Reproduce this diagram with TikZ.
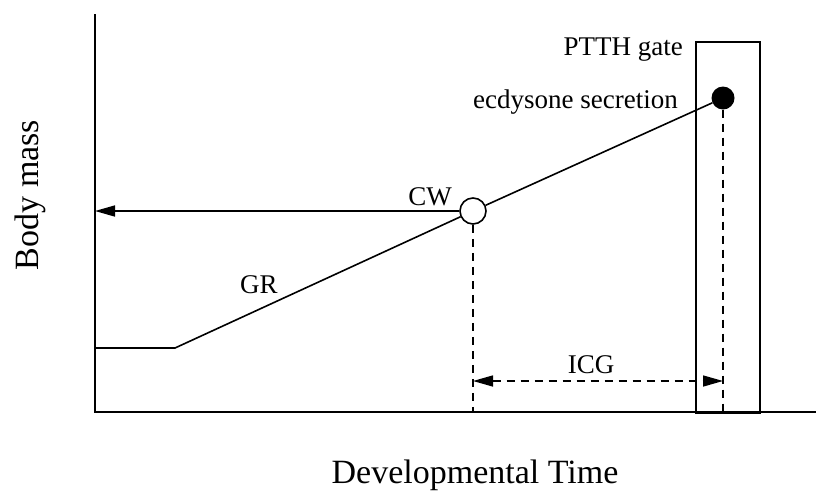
\documentclass[tikz,border=0pt]{standalone}
\usepackage{fontspec}
\setmainfont{Liberation Serif}
\usetikzlibrary{arrows.meta}
\begin{document}
\begin{tikzpicture}[x=1pt,y=-1pt,
  ln/.style={line width=1.6pt},
  dsh/.style={line width=1.5pt, dash pattern=on 8pt off 6pt},
  lbl/.style={font=\fontsize{27}{30}\selectfont, inner sep=0pt},
  axl/.style={font=\fontsize{34}{38}\selectfont, inner sep=0pt},
  tipa/.style={-{Triangle[length=20pt,width=11pt]}},
  tipb/.style={{Triangle[length=20pt,width=11pt]}-{Triangle[length=20pt,width=11pt]}}]
\useasboundingbox (0,0) rectangle (816,491);
% axes
\coordinate (top) at (95,14);
\coordinate (org) at (95,412);
\coordinate (xend) at (816,412);
\draw[ln] (top) -- (org) -- (xend);
% PTTH gate
\node[draw, ln, minimum width=64pt, minimum height=371pt, anchor=north west, inner sep=0pt] (gate) at (695,41) {};
% growth curve
\coordinate (s0) at (95,348);
\coordinate (s1) at (175,348);
\node[draw, circle, ln, fill=white, minimum size=26pt, inner sep=0pt] (cw) at (473,211) {};
\node[circle, fill=black, minimum size=23pt, inner sep=0pt] (ec) at (723,98) {};
\draw[ln] (s0) -- (s1) -- (cw);
\draw[ln] (cw) -- (ec);
% CW arrow
\coordinate (cwa) at (95,211);
\draw[ln, tipa] (cw.west) -- (cwa);
% dashed drops
\coordinate (cwb) at (473,412);
\coordinate (ecb) at (723,412);
\draw[dsh] (cw.south) -- (cwb);
\draw[dsh] (ec.south) -- (ecb);
% ICG
\coordinate (i0) at (473,381);
\coordinate (i1) at (723,381);
\draw[dsh, tipb] (i0) -- (i1);
% labels
\node[lbl, anchor=base] (cwl) at (430,205) {CW};
\node[lbl, anchor=base] (grl) at (259,293) {GR};
\node[lbl, anchor=base] (icgl) at (591,373) {ICG};
\node[lbl, anchor=base east] (pl) at (683,55) {PTTH gate};
\node[lbl, anchor=base east] (el) at (678,108) {ecdysone secretion};
\node[axl, anchor=base] (xl) at (475,483) {Developmental Time};
\node[axl, anchor=base, rotate=90] (yl) at (38,195) {Body mass};
\end{tikzpicture}
\end{document}
